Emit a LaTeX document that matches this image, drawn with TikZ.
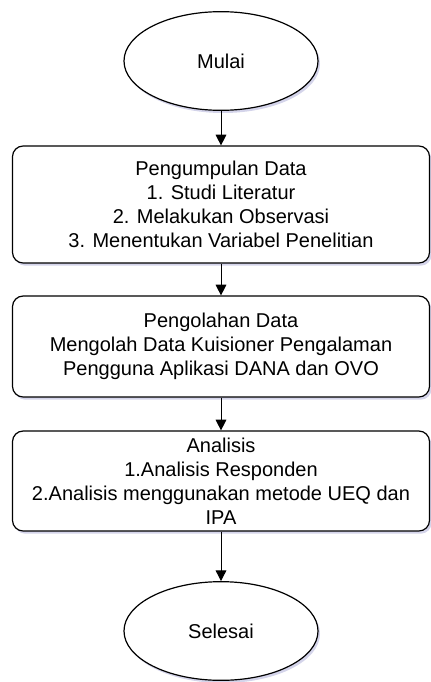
\documentclass[tikz,border=0pt]{standalone}
\usepackage{fontspec}
\setmainfont{Liberation Sans}
\usetikzlibrary{arrows.meta,shapes.geometric,shadows}

\tikzset{
  flowshadow/.style={drop shadow={shadow xshift=1.5pt,shadow yshift=-2pt,opacity=0.25,fill=blue!35!gray}},
  terminal/.style={ellipse,draw,line width=0.9pt,fill=white,flowshadow,minimum width=145.5pt,minimum height=74pt,inner sep=0pt,font=\fontsize{15}{18}\selectfont},
  process/.style={rectangle,rounded corners=8pt,draw,line width=0.9pt,fill=white,flowshadow,minimum width=312.75pt,align=center,inner sep=0pt,font=\fontsize{15}{18}\selectfont},
  flow/.style={-{Triangle[length=8pt,width=8pt]},line width=0.75pt},
}

\begin{document}
\begin{tikzpicture}[x=0.75pt,y=0.75pt,yscale=-1,xscale=1]
\useasboundingbox (0,0) rectangle (430,682); %set diagram to 430 x 682

%Shape: Ellipse
\node[terminal] (mulai) at (221,61) {Mulai};
%Shape: Rounded Rectangle
\node[process,minimum height=87.75pt] (kumpul) at (221,204.5) {Pengumpulan Data\\1. Studi Literatur\\2. Melakukan Observasi\\3. Menentukan Variabel Penelitian};
%Shape: Rounded Rectangle
\node[process,minimum height=75.75pt] (olah) at (221,346.5) {Pengolahan Data\\Mengolah Data Kuisioner Pengalaman\\Pengguna Aplikasi DANA dan OVO};
%Shape: Rounded Rectangle
\node[process,minimum height=75pt] (analisis) at (221,481) {Analisis\\1.Analisis Responden\\2.Analisis menggunakan metode UEQ dan\\IPA};
%Shape: Ellipse
\node[terminal] (selesai) at (221,631) {Selesai};

%Straight Lines
\draw[flow] (mulai) -- (kumpul);
%Straight Lines
\draw[flow] (kumpul) -- (olah);
%Straight Lines
\draw[flow] (olah) -- (analisis);
%Straight Lines
\draw[flow] (analisis) -- (selesai);

\end{tikzpicture}
\end{document}
